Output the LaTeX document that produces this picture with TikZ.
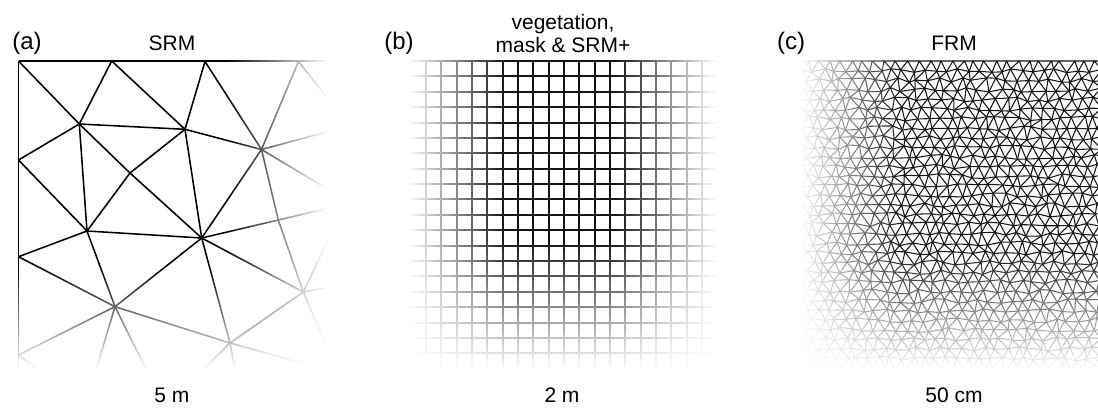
\documentclass[tikz,border=0pt]{standalone}
\usepackage{fontspec}
\setmainfont{Liberation Sans}
\usetikzlibrary{fadings}
\tikzfading[name=fadeR, left color=transparent!100, right color=transparent!0]
\tikzfading[name=fadeL, left color=transparent!0, right color=transparent!100]
\tikzfading[name=fadeD, top color=transparent!100, bottom color=transparent!0]
\tikzset{
  coarse/.style={line width=1.55pt, draw=black, line join=round},
  gridline/.style={line width=1.9pt, draw=black!92},
  fine/.style={line width=1.05pt, draw=black!92},
  veil/.style={fill=white, draw=none},
  title/.style={font=\fontsize{21}{23}\selectfont, inner sep=0pt, align=center},
  plabel/.style={font=\fontsize{24}{26}\selectfont, inner sep=0pt},
}
\begin{document}
\begin{tikzpicture}[x=1pt,y=-1pt]
\useasboundingbox (0,0) rectangle (1098,408);

% ---------------- panel (a): SRM ----------------
\begin{scope}
\clip (0,55) rectangle (332,376);
\coordinate (TL) at (18.5,61);
\coordinate (T1) at (111.7,61);
\coordinate (T2) at (205,61.5);
\coordinate (T3) at (298.5,61.5);
\coordinate (TR) at (340,61);
\coordinate (L1) at (18.5,160);
\coordinate (L2) at (18.5,256.7);
\coordinate (L3) at (18.5,355);
\coordinate (LB) at (18.5,380);
\coordinate (A) at (79.3,124);
\coordinate (B) at (185,129.3);
\coordinate (C) at (261.5,149.5);
\coordinate (D) at (130,173);
\coordinate (E) at (201.7,238);
\coordinate (F) at (87,231);
\coordinate (G) at (115,306.7);
\coordinate (H) at (230,343);
\coordinate (I) at (303.3,292);
\coordinate (J) at (278.3,220);
\coordinate (R1) at (335.8,108.6);
\coordinate (R2) at (340,128.4);
\coordinate (R3) at (340,196.5);
\coordinate (R4) at (340,205.5);
\coordinate (R5) at (335,225.6);
\coordinate (R6) at (340,285);
\coordinate (R7) at (330,355);
\coordinate (R8) at (345,375);
\coordinate (B0) at (45,374);
\coordinate (B1) at (93,380);
\coordinate (B2) at (150,377);
\coordinate (B3) at (196,377);
\coordinate (B4) at (237,380);
\draw[coarse] (TL) -- (TR);
\draw[coarse] (TL) -- (LB);
\draw[coarse] (TL) -- (A) -- (T1) -- (B) -- (T2) -- (C) -- (T3) -- (R1);
\draw[coarse] (L1) -- (A) -- (B) -- (C) -- (R2);
\draw[coarse] (A) -- (F) -- (L1);
\draw[coarse] (A) -- (D) -- (E);
\draw[coarse] (B) -- (D) -- (F);
\draw[coarse] (B) -- (E) -- (C) -- (R3);
\draw[coarse] (C) -- (J) -- (I);
\draw[coarse] (F) -- (E) -- (J) -- (R4);
\draw[coarse] (L2) -- (F) -- (G) -- (L2);
\draw[coarse] (E) -- (G) -- (H) -- (E) -- (I) -- (H);
\draw[coarse] (G) -- (L3) -- (B0);
\draw[coarse] (G) -- (B1);
\draw[coarse] (G) -- (B2);
\draw[coarse] (H) -- (B3);
\draw[coarse] (H) -- (B4);
\draw[coarse] (H) -- (R8);
\draw[coarse] (I) -- (R5);
\draw[coarse] (I) -- (R6);
\draw[coarse] (I) -- (R7);
\end{scope}
\fill[veil, path fading=fadeR] (225,55) rectangle (328,380);
\fill[veil] (327.5,55) rectangle (340,380);
\fill[veil, path fading=fadeD] (0,265) rectangle (340,370);
\fill[veil] (0,369.5) rectangle (340,380);

% ---------------- panel (b): regular grid ----------------
\foreach \k in {0,...,18}{
  \pgfmathsetmacro\gx{round(426+15.333*\k)}
  \draw[gridline] (\gx,61) -- (\gx,372);
}
\foreach \j in {0,...,19}{
  \pgfmathsetmacro\gy{round(61+15.385*\j)}
  \draw[gridline] (406,\gy) -- (722,\gy);
}
\fill[veil, path fading=fadeL] (408,55) rectangle (505,380);
\fill[veil] (395,55) rectangle (408.5,380);
\fill[veil, path fading=fadeR] (614,55) rectangle (717,380);
\fill[veil] (716.5,55) rectangle (735,380);
\fill[veil, path fading=fadeD] (395,240) rectangle (735,370);
\fill[veil] (395,369.5) rectangle (735,380);

% ---------------- panel (c): fine triangular mesh ----------------
\begin{scope}
\clip (788,60) rectangle (1098,378);
\pgfmathsetseed{11}
\foreach \j in {0,...,35}{
  \foreach \i in {0,...,31}{
    \pgfmathsetmacro\px{786+\i*11+mod(\j,2)*5.5+2.8*rand}
    \ifnum\j=0 \def\py{61}\else\pgfmathsetmacro\py{61+\j*9.6+2.4*rand}\fi
    \coordinate (p-\i-\j) at (\px,\py);
  }
}
\foreach \j in {0,...,34}{
  \pgfmathtruncatemacro\jn{\j+1}
  \foreach \i in {1,...,30}{
    \pgfmathtruncatemacro\ir{\i+1}
    \ifodd\j \pgfmathtruncatemacro\id{\i+1}\else\pgfmathtruncatemacro\id{\i-1}\fi
    \draw[fine] (p-\ir-\j) -- (p-\i-\j) -- (p-\i-\jn) (p-\i-\j) -- (p-\id-\jn);
  }
}
\end{scope}
\fill[veil, path fading=fadeL] (800,55) rectangle (900,380);
\fill[veil] (780,55) rectangle (800.5,380);
\fill[veil, path fading=fadeD] (780,252) rectangle (1098,370);
\fill[veil] (780,369.5) rectangle (1098,380);

% ---------------- texts ----------------
\node[plabel] (la) at (27,43) {(a)};
\node[title] (ta) at (172,43) {SRM};
\node[title] (sa) at (172,395) {5 m};
\node[plabel] (lb) at (399,43) {(b)};
\node[title] (tb) at (563,33) {vegetation,\\mask \& SRM+};
\node[title] (sb) at (562,395) {2 m};
\node[plabel] (lc) at (791,43) {(c)};
\node[title] (tc) at (954,43) {FRM};
\node[title] (sc) at (954,395) {50 cm};
\end{tikzpicture}
\end{document}
